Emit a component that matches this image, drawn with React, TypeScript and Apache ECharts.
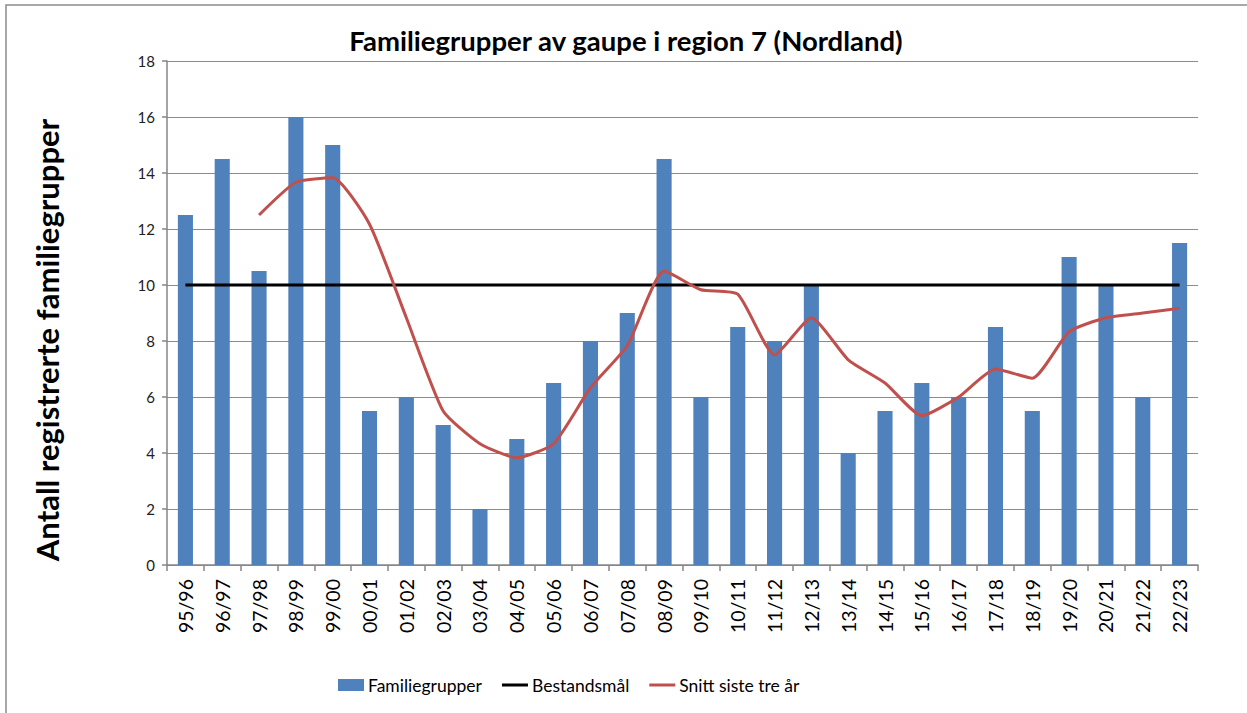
import React, { useEffect, useRef } from "react";
import * as echarts from "echarts";

const categories = ["95/96","96/97","97/98","98/99","99/00","00/01","01/02","02/03","03/04","04/05","05/06","06/07","07/08","08/09","09/10","10/11","11/12","12/13","13/14","14/15","15/16","16/17","17/18","18/19","19/20","20/21","21/22","22/23"];
const familiegrupper = [12.5,14.5,10.5,16,15,5.5,6,5,2,4.5,6.5,8,9,14.5,6,8.5,8,10,4,5.5,6.5,6,8.5,5.5,11,10,6,11.5];
const bestandsmaal = [10,10,10,10,10,10,10,10,10,10,10,10,10,10,10,10,10,10,10,10,10,10,10,10,10,10,10,10];
const snitt = [null,null,12.5,13.67,13.83,12.17,8.83,5.5,4.33,3.83,4.33,6.33,7.83,10.5,9.83,9.67,7.5,8.83,7.33,6.5,5.33,6,7,6.67,8.33,8.83,9,9.17];
const yTicks = { min: 0, max: 18, interval: 2 };

const FONT = "Lato, 'Open Sans', sans-serif";
const LINE_ICON = "path://M0,0L0,0.01M0,4.5L28,4.5L28,7.5L0,7.5ZM28,12L28,12.01";

export default function App() {
  const ref = useRef<HTMLDivElement>(null);
  useEffect(() => {
    const chart = echarts.init(ref.current!, null, { renderer: "svg" });
    chart.setOption({
      animation: false,
      backgroundColor: "#fff",
      textStyle: { fontFamily: FONT },
      graphic: [
        { type: "rect", shape: { x: 6, y: 5, width: 1400, height: 900 }, style: { fill: "none", stroke: "#8c8c8c", lineWidth: 1.5 }, silent: true },
        { type: "text", x: 626, y: 40, style: { text: "Familiegrupper av gaupe i region 7 (Nordland)", font: `bold 27.5px ${FONT}`, fill: "#000", align: "center", verticalAlign: "middle" } },
        { type: "text", x: 47, y: 340, rotation: Math.PI / 2, style: { text: "Antall registrerte familiegrupper", font: `bold 31px ${FONT}`, fill: "#000", align: "center", verticalAlign: "middle" } },
      ],
      grid: { left: 167, right: 49, top: 61, bottom: 148, containLabel: false },
      legend: {
        bottom: 14,
        left: 333,
        itemGap: 20,
        itemWidth: 26,
        itemHeight: 12,
        textStyle: { fontSize: 17.5, color: "#000", fontFamily: FONT, padding: [0, 0, 0, -1] },
        data: [
          { name: "Familiegrupper", icon: "rect" },
          { name: "Bestandsmål", icon: LINE_ICON },
          { name: "Snitt siste tre år", icon: LINE_ICON },
        ],
      },
      xAxis: {
        type: "category",
        data: categories,
        boundaryGap: true,
        axisLine: { lineStyle: { color: "#868686", width: 1.5 } },
        axisTick: { show: true, alignWithLabel: false, length: 6, lineStyle: { color: "#868686", width: 1.5 } },
        axisLabel: { rotate: 90, fontSize: 19.5, color: "#000", margin: 14, interval: 0, fontFamily: FONT },
        splitLine: { show: false },
      },
      yAxis: {
        type: "value",
        min: yTicks.min,
        max: yTicks.max,
        interval: yTicks.interval,
        axisLine: { show: true, lineStyle: { color: "#868686", width: 1.5 } },
        axisTick: { show: true, length: 5, lineStyle: { color: "#868686", width: 1.5 } },
        axisLabel: { fontSize: 15, color: "#222", margin: 12, fontFamily: FONT },
        splitLine: { show: true, lineStyle: { color: "#8c8c8c", width: 1.2 } },
      },
      series: [
        {
          name: "Familiegrupper",
          type: "bar",
          data: familiegrupper,
          barWidth: "41%",
          itemStyle: { color: "#4F81BD" },
        },
        {
          name: "Bestandsmål",
          type: "line",
          data: bestandsmaal,
          symbol: "none",
          lineStyle: { color: "#000", width: 3 },
          itemStyle: { color: "#000" },
        },
        {
          name: "Snitt siste tre år",
          type: "line",
          data: snitt,
          symbol: "none",
          smooth: 0.18,
          connectNulls: false,
          lineStyle: { color: "#C0504D", width: 3 },
          itemStyle: { color: "#C0504D" },
        },
      ],
    });
    return () => chart.dispose();
  }, []);
  return <div ref={ref} style={{ position: "absolute", left: 0, top: 0, width: 1247, height: 713 }} />;
}
